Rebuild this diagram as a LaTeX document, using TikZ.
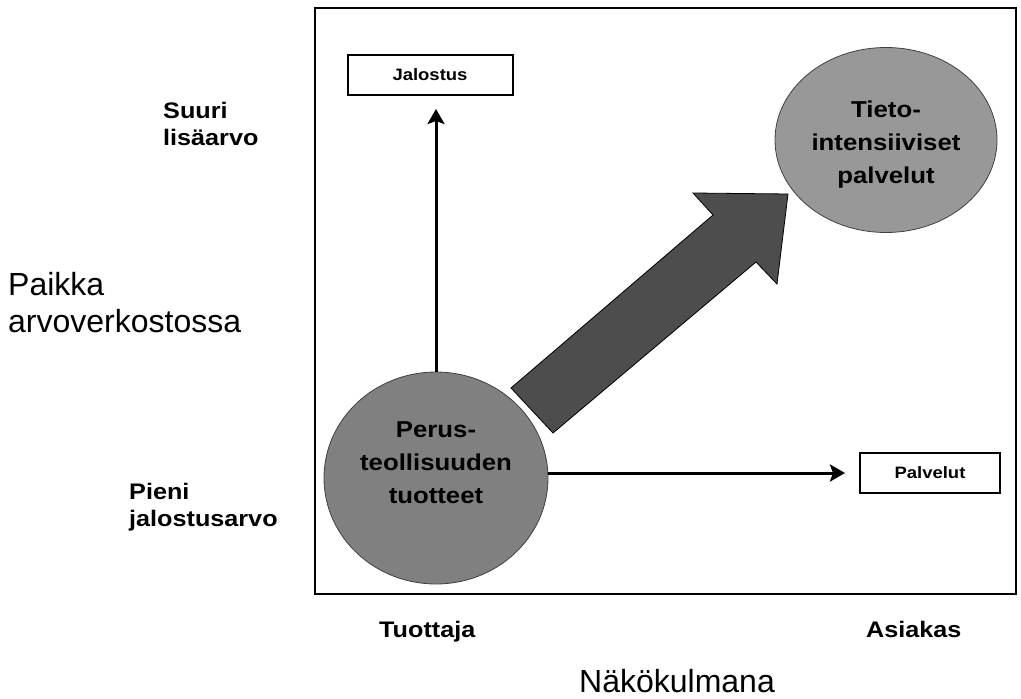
\documentclass[tikz,border=0pt]{standalone}
\usepackage{fontspec}
\setmainfont{Liberation Sans}
\newfontfamily\widesans[FakeStretch=1.12,BoldFont={Liberation Sans Bold}]{Liberation Sans}
\usetikzlibrary{shapes.geometric,arrows.meta,calc}
\definecolor{circA}{HTML}{808080}
\definecolor{circB}{HTML}{989898}
\definecolor{bigarrow}{HTML}{4D4D4D}
\begin{document}
\begin{tikzpicture}[x=1pt,y=-1pt,
  blob/.style={ellipse,draw=black!75,line width=0.8pt,inner sep=0pt},
  blobtext/.style={font=\widesans\bfseries\fontsize{23}{33}\selectfont,align=center,inner sep=0pt},
  smallbox/.style={draw=black,line width=2pt,fill=white,inner sep=0pt,minimum height=40pt,font=\widesans\bfseries\fontsize{16.5}{20}\selectfont},
  axislabel/.style={font=\widesans\bfseries\fontsize{22.5}{27}\selectfont,align=left,inner sep=0pt},
  biglabel/.style={font=\fontsize{32}{37}\selectfont,align=left,inner sep=0pt},
  conn/.style={line width=3pt,-{Stealth[length=15pt,width=17pt,inset=3pt]}}]
\useasboundingbox (0,0) rectangle (1021,699);
% frame
\draw[line width=2pt] (315,8) rectangle (1016,594);
% circles
\node[blob,fill=circA,minimum width=224pt,minimum height=212pt] (perus) at (436,478) {};
\node[blobtext] (perustext) at (436,463) {Perus-\\teollisuuden\\tuotteet};
\node[blob,fill=circB,minimum width=222pt,minimum height=185pt] (tieto) at (886,140) {};
\node[blobtext] (tietotext) at (886,145) {Tieto-\\intensiiviset\\palvelut};
% boxes
\node[smallbox,minimum width=165pt] (jal) at (430,75) {Jalostus};
\node[smallbox,minimum width=140pt] (palv) at (930,473) {Palvelut};
% connectors
\draw[conn,shorten >=13pt] (perus.north) -- (perus.north |- jal.south);
\draw[conn,shorten >=14pt] (perus.east |- palv.west) -- (palv.west);
% big block arrow
\draw[fill=bigarrow,draw=black,line width=0.8pt,line join=miter]
  (511,388) -- (553,433) -- (756,262) -- (777,284) -- (788,194) -- (693,193) -- (713,215) -- cycle;
% labels
\node[axislabel,anchor=north west] (suuri) at (163,102) {Suuri\\lisäarvo};
\node[axislabel,anchor=north west] (pieni) at (129,483) {Pieni\\jalostusarvo};
\node[biglabel,anchor=north west] (paikka) at (8,272) {Paikka\\arvoverkostossa};
\node[axislabel,anchor=base west] (tuot) at (379,637) {Tuottaja};
\node[axislabel,anchor=base west] (asiak) at (866,637) {Asiakas};
\node[biglabel,anchor=base] (nako) at (677,692) {Näkökulmana};
\end{tikzpicture}
\end{document}
